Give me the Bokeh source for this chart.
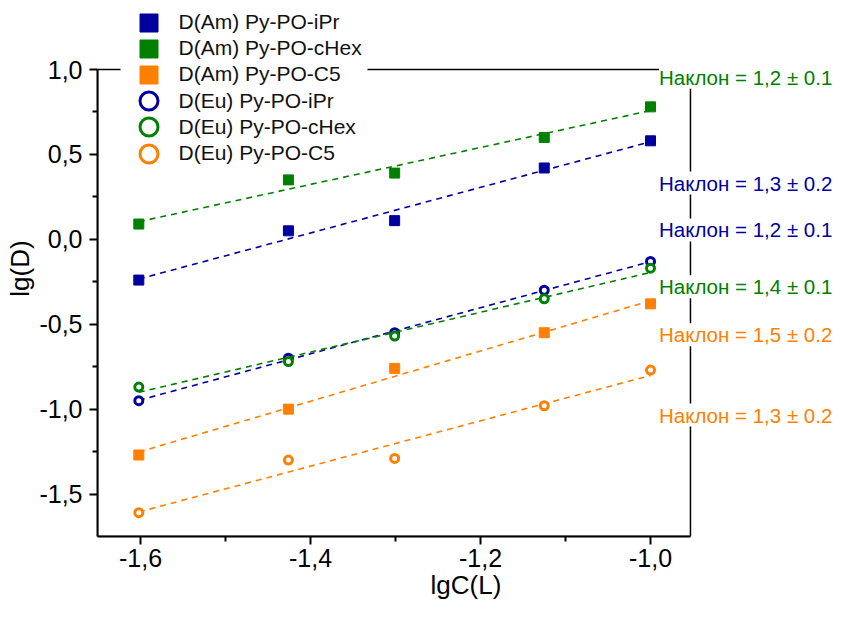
import numpy as np
from bokeh.plotting import figure
from bokeh.models import (Range1d, FixedTicker, CustomJSTickFormatter, Legend,
                          LegendItem, Label, BoxAnnotation)
from bokeh.embed import file_html
from bokeh.resources import INLINE

# ---- data ----
lgC = [-1.602, -1.426, -1.301, -1.125, -1.0]
am_ipr = [-0.24, 0.05, 0.11, 0.42, 0.58]
am_chex = [0.09, 0.35, 0.39, 0.60, 0.78]
am_c5 = [-1.27, -1.00, -0.76, -0.55, -0.38]
eu_ipr = [-0.95, -0.70, -0.55, -0.30, -0.13]
eu_chex = [-0.87, -0.72, -0.57, -0.35, -0.17]
eu_c5 = [-1.61, -1.30, -1.29, -0.98, -0.77]

names = ["D(Am) Py-PO-iPr", "D(Am) Py-PO-cHex", "D(Am) Py-PO-C5",
         "D(Eu) Py-PO-iPr", "D(Eu) Py-PO-cHex", "D(Eu) Py-PO-C5"]
series = [am_ipr, am_chex, am_c5, eu_ipr, eu_chex, eu_c5]

slope_texts = ["Наклон = 1,2 ± 0.1", "Наклон = 1,3 ± 0.2", "Наклон = 1,2 ± 0.1",
               "Наклон = 1,4 ± 0.1", "Наклон = 1,5 ± 0.2", "Наклон = 1,3 ± 0.2"]

x_ticks = [-1.6, -1.4, -1.2, -1.0]
x_minor = [-1.5, -1.3, -1.1]
y_ticks = [-1.5, -1.0, -0.5, 0.0, 0.5, 1.0]
y_minor = [-1.25, -0.75, -0.25, 0.25, 0.75]

# ---- styles / layout ----
BLUE = "#00009E"
GREEN = "#008000"
ORANGE = "#FF8000"
colors = [BLUE, GREEN, ORANGE, BLUE, GREEN, ORANGE]
markers = ["square"] * 3 + ["circle"] * 3
slope_colors = [GREEN, BLUE, BLUE, GREEN, ORANGE, ORANGE]
slope_y = [0.954, 0.331, 0.055, -0.28, -0.562, -1.035]
slope_x = -0.990
FONT = "Liberation Sans"

W, H = 834, 608
LEFT, BOTTOM = 97, 72            # border sizes in px
FRAME_H = H - BOTTOM
XMIN, XMAX_AX = -1.6506, -0.953  # visible axis box
YMIN, YMAX_AX = -1.75, 1.0
X_PX = 850.0                      # px per x unit
Y_TOP_PX = 69                     # pixel row of y = 1.0
Y_PX = (FRAME_H - Y_TOP_PX) / (YMAX_AX - YMIN)
x_end = XMIN + (W - LEFT) / X_PX
y_end = YMAX_AX + Y_TOP_PX / Y_PX

p = figure(width=W, height=H, x_range=Range1d(XMIN, x_end),
           y_range=Range1d(YMIN, y_end), output_backend="svg",
           toolbar_location=None, min_border_left=LEFT, min_border_right=0,
           min_border_top=0, min_border_bottom=BOTTOM)
p.xgrid.visible = False
p.ygrid.visible = False
p.outline_line_color = None

for ax in (p.xaxis[0], p.yaxis[0]):
    ax.axis_line_width = 2
    ax.major_tick_line_width = 2
    ax.minor_tick_line_width = 2
    ax.major_tick_out = 8
    ax.major_tick_in = 0
    ax.minor_tick_out = 5
    ax.minor_tick_in = 0
    ax.major_label_text_font = FONT
    ax.major_label_text_color = "black"
    ax.axis_label_text_font = FONT
    ax.axis_label_text_font_size = "26px"
    ax.axis_label_text_font_style = "normal"
    ax.axis_label_text_color = "black"
    ax.formatter = CustomJSTickFormatter(code="return tick.toFixed(1).replace('.', ',')")

p.xaxis.major_label_text_font_size = "25px"
p.yaxis.major_label_text_font_size = "25px"
p.xaxis.ticker = FixedTicker(ticks=x_ticks, minor_ticks=x_minor)
p.yaxis.ticker = FixedTicker(ticks=y_ticks, minor_ticks=y_minor)
p.xaxis.bounds = (XMIN, XMAX_AX)
p.yaxis.bounds = (YMIN, YMAX_AX)
p.xaxis.axis_label = "lgC(L)"
p.yaxis.axis_label = "lg(D)"
p.xaxis.major_label_standoff = 4
p.yaxis.major_label_standoff = 7
p.yaxis.axis_label_standoff = 1
p.xaxis.axis_label_standoff = 0

# axis box (top / right sides of the frame)
p.add_layout(BoxAnnotation(left=XMIN, right=XMAX_AX, bottom=YMIN, top=YMAX_AX,
                           fill_alpha=0, line_color="black", line_alpha=1.0,
                           line_width=1.5, level="underlay"))

xs = np.array(lgC)
renderers = []
for name, ys, c, m in zip(names, series, colors, markers):
    k, b = np.polyfit(xs, np.array(ys), 1)
    fx = [xs.min(), xs.max()]
    fy = [k * fx[0] + b, k * fx[1] + b]
    p.line(fx, fy, line_color=c, line_width=1.6, line_dash="6 5")
    if m == "square":
        r = p.scatter(lgC, ys, marker="square", size=10, fill_color=c, line_color=c)
    else:
        r = p.scatter(lgC, ys, marker="circle", size=8, fill_color="white",
                      line_color=c, line_width=3)
    renderers.append(r)

# white patch behind the legend (hides the top frame line there)
p.add_layout(BoxAnnotation(left=XMIN + (120 - LEFT) / X_PX, right=XMIN + (367 - LEFT) / X_PX,
                           bottom=YMAX_AX - 0.03, top=YMAX_AX + 0.03,
                           fill_color="white", fill_alpha=1.0, line_color=None))

# legend: one row per Legend so that markers can be large at a tight pitch
GLYPH = 45
for i, (name, r) in enumerate(zip(names, renderers)):
    row_center = 22 + 26.2 * i
    loc_y = FRAME_H - (row_center + GLYPH / 2)
    lg = Legend(items=[LegendItem(label=name, renderers=[r])],
                location=(148 - GLYPH / 2 - LEFT, loc_y),
                glyph_width=GLYPH, glyph_height=GLYPH, label_height=20,
                padding=0, margin=0, label_standoff=8,
                label_text_font=FONT, label_text_font_size="21px",
                label_text_color="#111111",
                background_fill_alpha=0, border_line_color=None)
    p.add_layout(lg)

for t, c, y in zip(slope_texts, slope_colors, slope_y):
    p.add_layout(Label(x=slope_x, y=y, text=t, text_color=c, text_font=FONT,
                       text_font_size="20.5px", text_baseline="middle",
                       background_fill_color="white", background_fill_alpha=1.0))

open("out.html", "w").write(file_html(p, INLINE))
